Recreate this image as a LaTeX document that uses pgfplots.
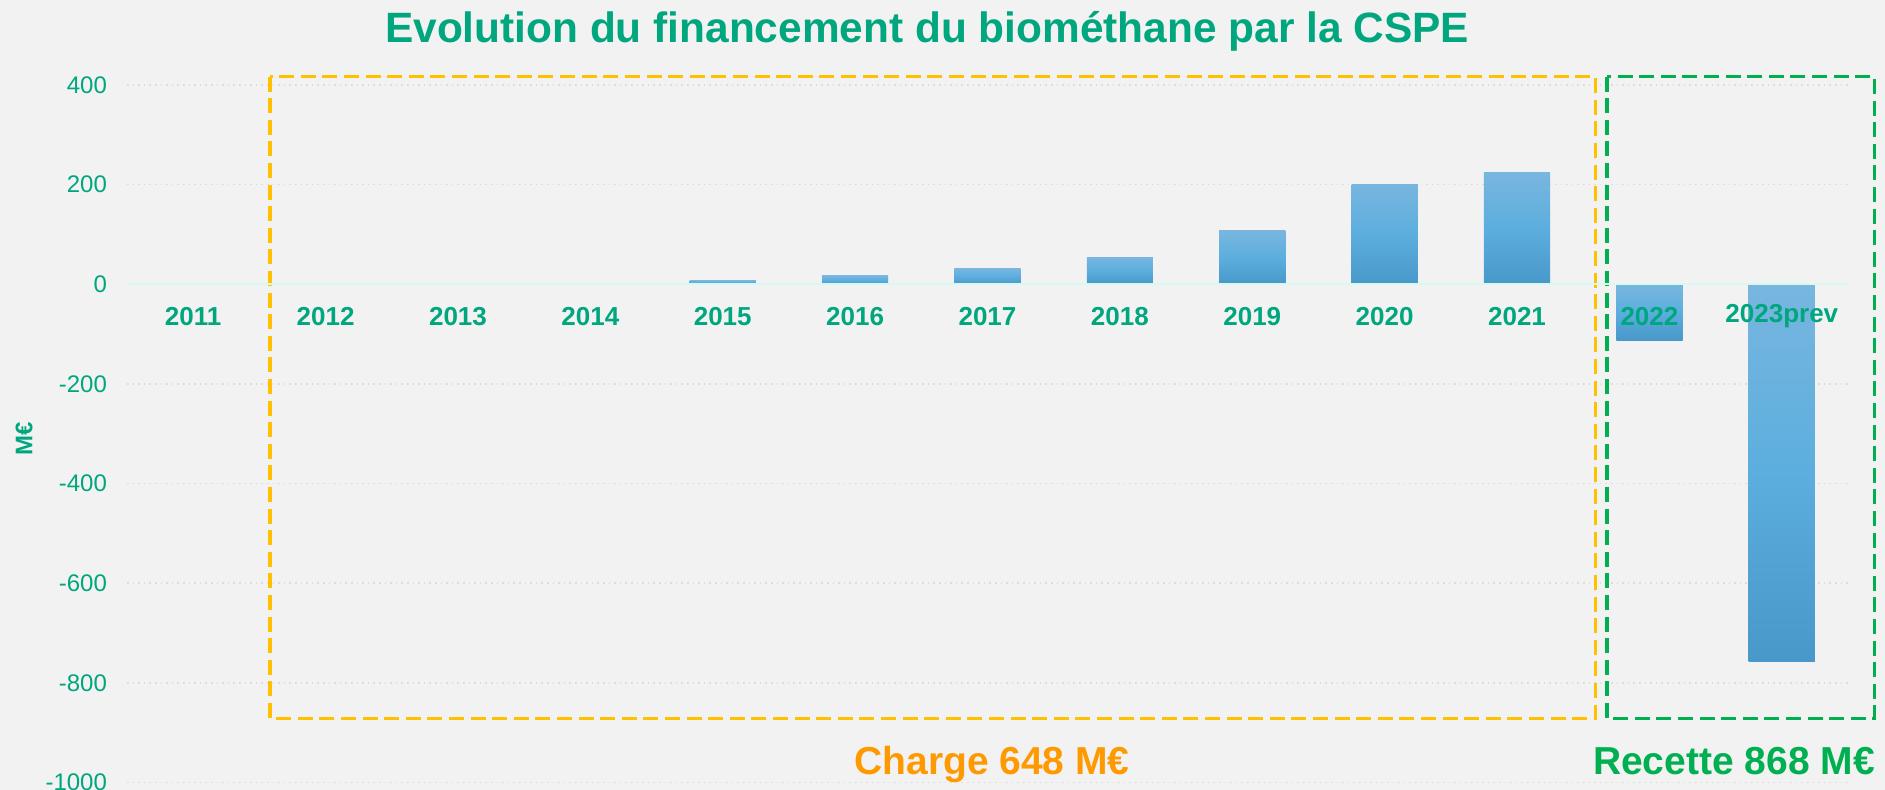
\documentclass[border=0pt]{standalone}
\usepackage{pgfplots}
\pgfplotsset{compat=1.18}
\usepackage{fontspec}
\setmainfont{Liberation Sans}
\definecolor{bg}{HTML}{F2F2F2}
\definecolor{tgreen}{HTML}{00A67E}
\definecolor{obox}{HTML}{FFC000}
\definecolor{otext}{HTML}{FF9900}
\definecolor{gbox}{HTML}{00B050}
\definecolor{bartop}{HTML}{78B6DF}
\definecolor{barmid}{HTML}{5CAEDE}
\definecolor{barbot}{HTML}{4898CA}
\definecolor{zeroc}{HTML}{D6FAF1}
\definecolor{gridc}{HTML}{DCDCDC}
\tikzset{gl/.style={dotted, gridc, line width=0.8pt}}
\begin{document}
\begin{tikzpicture}
\fill[bg] (0,0) rectangle (942.5pt,395pt);
\useasboundingbox (0,0) rectangle (942.5pt,395pt);
\begin{axis}[
  axis on top,
  at={(63.5pt,3.7pt)}, anchor=south west,
  scale only axis, width=860.5pt, height=348.8pt,
  xmin=-0.5, xmax=12.5, ymin=-1000, ymax=400,
  clip=false,
  axis x line*=middle, axis y line*=left,
  x axis line style={draw=zeroc, line width=1pt},
  y axis line style={draw=none},
  major tick length=0pt,
  xtick={0,1,2,3,4,5,6,7,8,9,10,11,12},
  xticklabels={2011,2012,2013,2014,2015,2016,2017,2018,2019,2020,2021,2022,2023prev},
  xticklabel style={anchor=center, yshift=-16pt, font=\fontsize{13}{15}\selectfont\bfseries, text=tgreen},
  ytick={-1000,-800,-600,-400,-200,0,200,400},
  yticklabels={-1000,-800,-600,-400,-200,0,200,400},
  yticklabel style={anchor=east, font=\fontsize{12}{14}\selectfont, text=tgreen, xshift=-6.5pt},
  ylabel={M€},
  ylabel style={at={(axis description cs:-0.0598,0.4925)}, anchor=center, font=\fontsize{12}{14}\selectfont\bfseries, text=tgreen},
  barst/.style={ybar, bar width=0.5, bar shift=0pt, draw=none, top color=bartop, bottom color=barbot, middle color=barmid},
]
\draw[gl] (axis cs:-0.5,400) -- (axis cs:12.5,400);
\draw[gl] (axis cs:-0.5,200) -- (axis cs:12.5,200);
\draw[gl] (axis cs:-0.5,-200) -- (axis cs:12.5,-200);
\draw[gl] (axis cs:-0.5,-400) -- (axis cs:12.5,-400);
\draw[gl] (axis cs:-0.5,-600) -- (axis cs:12.5,-600);
\draw[gl] (axis cs:-0.5,-800) -- (axis cs:12.5,-800);
\draw[gl] (axis cs:-0.5,-1000) -- (axis cs:12.5,-1000);
\addplot[barst] coordinates {(2,2)};
\addplot[barst] coordinates {(3,3)};
\addplot[barst] coordinates {(4,8)};
\addplot[barst] coordinates {(5,17)};
\addplot[barst] coordinates {(6,32)};
\addplot[barst] coordinates {(7,54)};
\addplot[barst] coordinates {(8,107)};
\addplot[barst] coordinates {(9,201)};
\addplot[barst] coordinates {(10,224)};
\addplot[barst] coordinates {(11,-112)};
\addplot[barst] coordinates {(12,-756)};
\draw[obox, line width=1.65pt, dash pattern=on 7.5pt off 3.3pt] (axis cs:0.58,417) rectangle (axis cs:10.59,-871);
\draw[gbox, line width=1.65pt, dash pattern=on 7.5pt off 3.3pt] (axis cs:10.68,417) rectangle (axis cs:12.7,-871);
\end{axis}
\node[anchor=base, font=\fontsize{21.2}{25}\selectfont\bfseries, text=tgreen] at (463.5pt,373.5pt) {Evolution du financement du biométhane par la CSPE};
\node[anchor=base, font=\fontsize{19.5}{23}\selectfont\bfseries, text=otext] at (496pt,7.5pt) {Charge 648 M€};
\node[anchor=base, font=\fontsize{19.5}{23}\selectfont\bfseries, text=gbox] at (867pt,7.5pt) {Recette 868 M€};
\end{tikzpicture}
\end{document}
